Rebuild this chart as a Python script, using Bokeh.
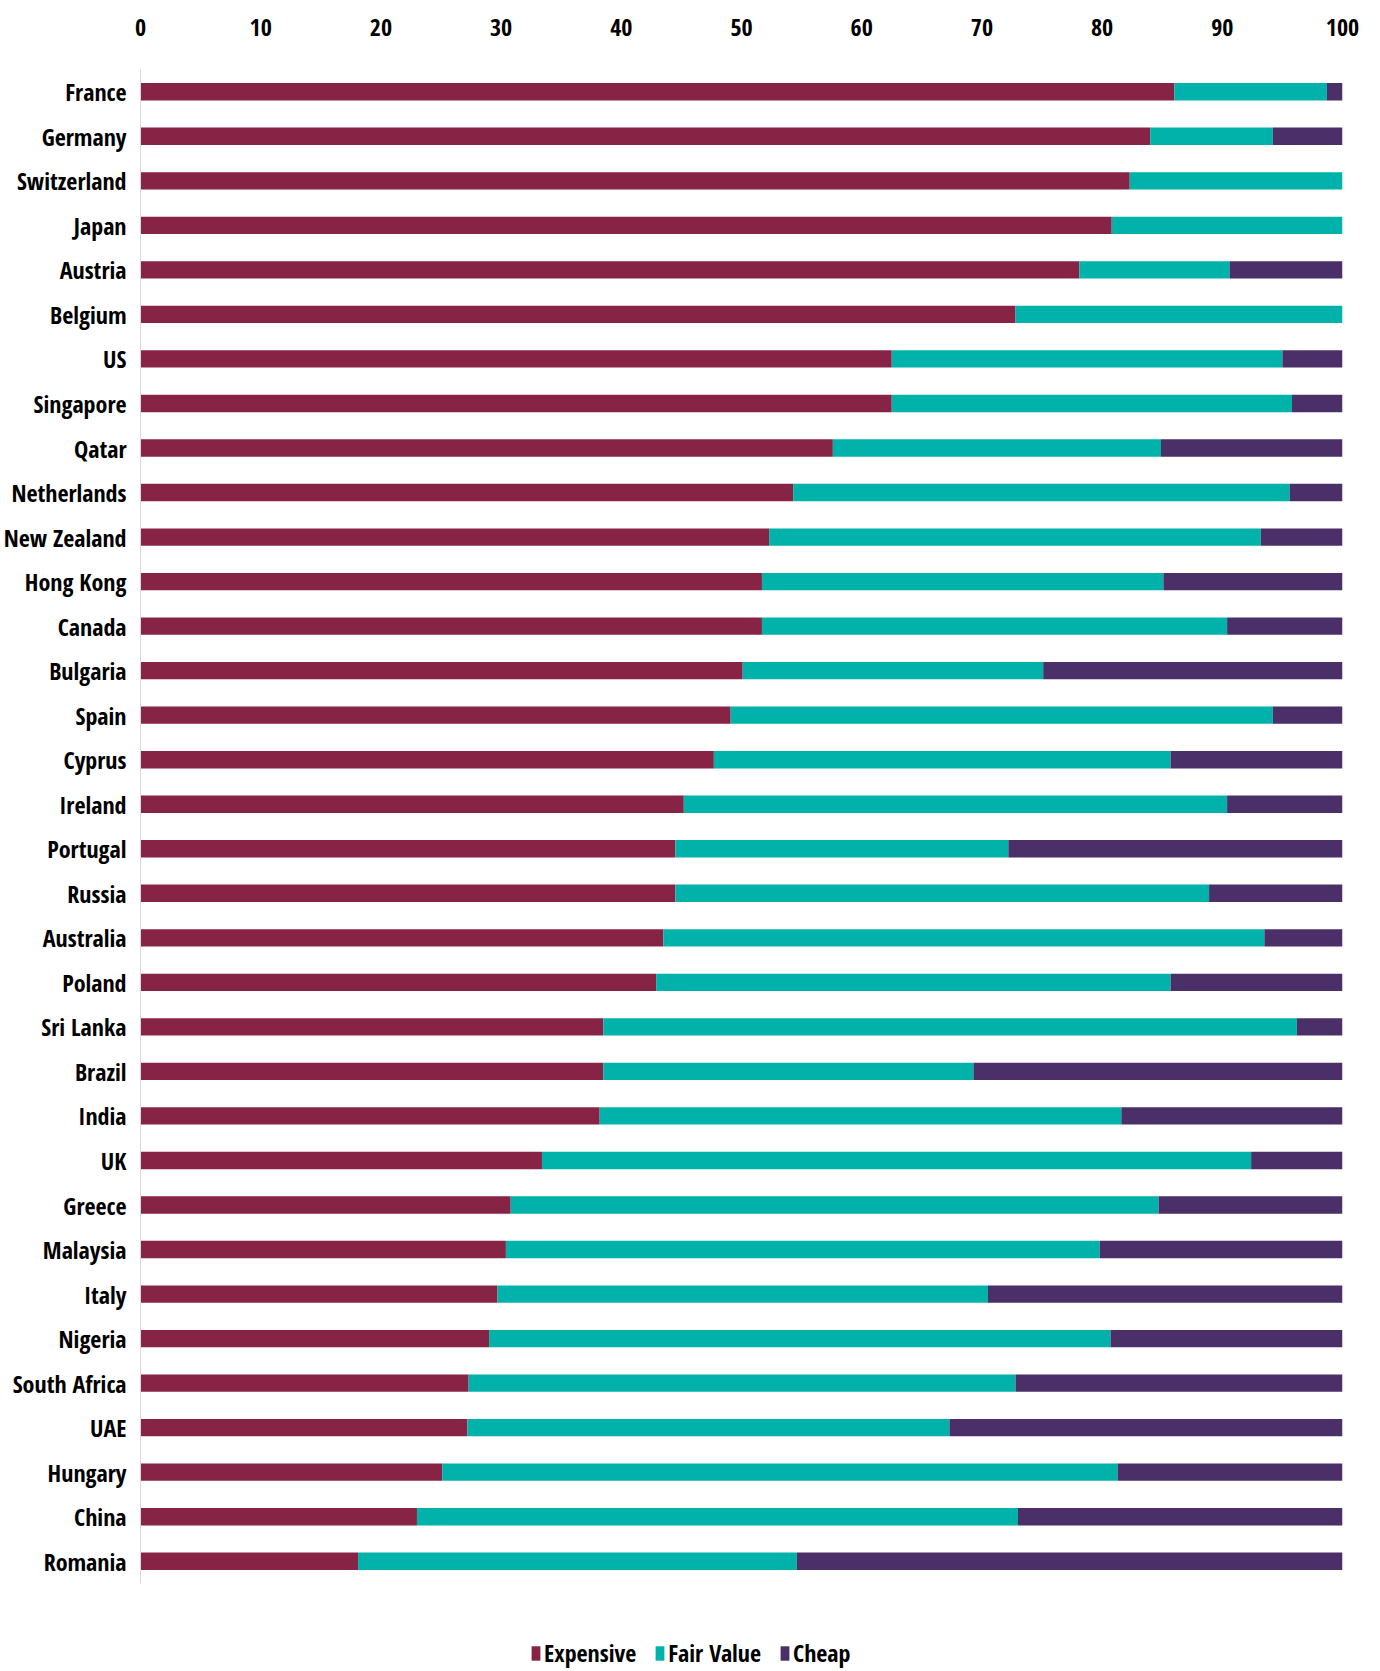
from bokeh.plotting import figure
from bokeh.layouts import column
from bokeh.models import ColumnDataSource, FactorRange, Range1d, FixedTicker, Legend, LegendItem
from bokeh.embed import file_html
from bokeh.resources import INLINE

countries = ["France", "Germany", "Switzerland", "Japan", "Austria", "Belgium", "US",
             "Singapore", "Qatar", "Netherlands", "New Zealand", "Hong Kong", "Canada",
             "Bulgaria", "Spain", "Cyprus", "Ireland", "Portugal", "Russia", "Australia",
             "Poland", "Sri Lanka", "Brazil", "India", "UK", "Greece", "Malaysia", "Italy",
             "Nigeria", "South Africa", "UAE", "Hungary", "China", "Romania"]
expensive = [86.0, 84.0, 82.3, 80.8, 78.1, 72.8, 62.5, 62.5, 57.6, 54.3, 52.3, 51.7, 51.7,
             50.1, 49.1, 47.7, 45.2, 44.5, 44.5, 43.5, 42.9, 38.5, 38.5, 38.2, 33.4, 30.8,
             30.4, 29.7, 29.0, 27.3, 27.2, 25.1, 23.0, 18.1]
fair_value = [12.7, 10.2, 17.7, 19.2, 12.5, 27.2, 32.5, 33.3, 27.3, 41.3, 40.9, 33.4, 38.7,
              25.0, 45.1, 38.0, 45.2, 27.7, 44.4, 50.0, 42.8, 57.7, 30.8, 43.4, 59.0, 53.9,
              49.4, 40.8, 51.7, 45.5, 40.1, 56.2, 50.0, 36.5]
cheap = [1.3, 5.8, 0.0, 0.0, 9.4, 0.0, 5.0, 4.2, 15.1, 4.4, 6.8, 14.9, 9.6,
         24.9, 5.8, 14.3, 9.6, 27.8, 11.1, 6.5, 14.3, 3.8, 30.7, 18.4, 7.6, 15.3,
         20.2, 29.5, 19.3, 27.2, 32.7, 18.7, 27.0, 45.4]
series = ["Expensive", "Fair Value", "Cheap"]
colors = ["#872446", "#00B2AA", "#4B2F68"]
x_ticks = [0, 10, 20, 30, 40, 50, 60, 70, 80, 90, 100]

FONT = "Open Sans Condensed, Roboto Condensed, sans-serif"
FSIZE = "24px"

source = ColumnDataSource(dict(country=countries, Expensive=expensive,
                               **{"Fair Value": fair_value}, Cheap=cheap))

p = figure(width=1380, height=1620, output_backend="svg", toolbar_location=None,
           y_range=FactorRange(factors=countries[::-1]), x_range=Range1d(0, 100),
           x_axis_location="above",
           min_border_left=140, min_border_right=38, min_border_top=69, min_border_bottom=37)

renderers = p.hbar_stack(series, y="country", height=0.39, color=colors, source=source,
                         line_color=None)

p.outline_line_color = None
p.xgrid.grid_line_color = None
p.ygrid.grid_line_color = None

xa = p.xaxis[0]
xa.ticker = FixedTicker(ticks=x_ticks)
xa.axis_line_color = None
xa.major_tick_line_color = None
xa.minor_tick_line_color = None
xa.major_tick_out = 0
xa.major_label_standoff = 34
xa.major_label_text_font = FONT
xa.major_label_text_font_style = "bold"
xa.major_label_text_font_size = FSIZE
xa.major_label_text_color = "#000000"

ya = p.yaxis[0]
ya.axis_line_color = "#D9D9D9"
ya.axis_line_width = 1
ya.major_tick_line_color = None
ya.minor_tick_line_color = None
ya.major_tick_out = 0
ya.major_label_standoff = 14
ya.major_label_text_font = FONT
ya.major_label_text_font_style = "bold"
ya.major_label_text_font_size = FSIZE
ya.major_label_text_color = "#000000"

# legend row below the chart (hidden copies of the bars feed the legend swatches)
pl = figure(width=1380, height=51, output_backend="svg", toolbar_location=None,
            x_range=Range1d(0, 100), y_range=FactorRange(factors=countries[::-1]),
            x_axis_type=None, y_axis_type=None, min_border=0)
pl.grid.visible = False
pl.outline_line_color = None
leg_renderers = pl.hbar_stack(series, y="country", height=0.39, color=colors, source=source,
                              line_color=None)
for r in leg_renderers:
    r.visible = False
legend = Legend(items=[LegendItem(label=s, renderers=[r]) for s, r in zip(series, leg_renderers)],
                orientation="horizontal", location=(390, 2),
                glyph_width=11, glyph_height=18, label_standoff=3, spacing=18,
                padding=0, margin=0, border_line_color=None, background_fill_alpha=0,
                label_text_font=FONT, label_text_font_style="bold",
                label_text_font_size=FSIZE, label_text_color="#000000")
pl.add_layout(legend, "center")

layout = column(p, pl, spacing=0)
open("out.html", "w").write(file_html(layout, INLINE))
